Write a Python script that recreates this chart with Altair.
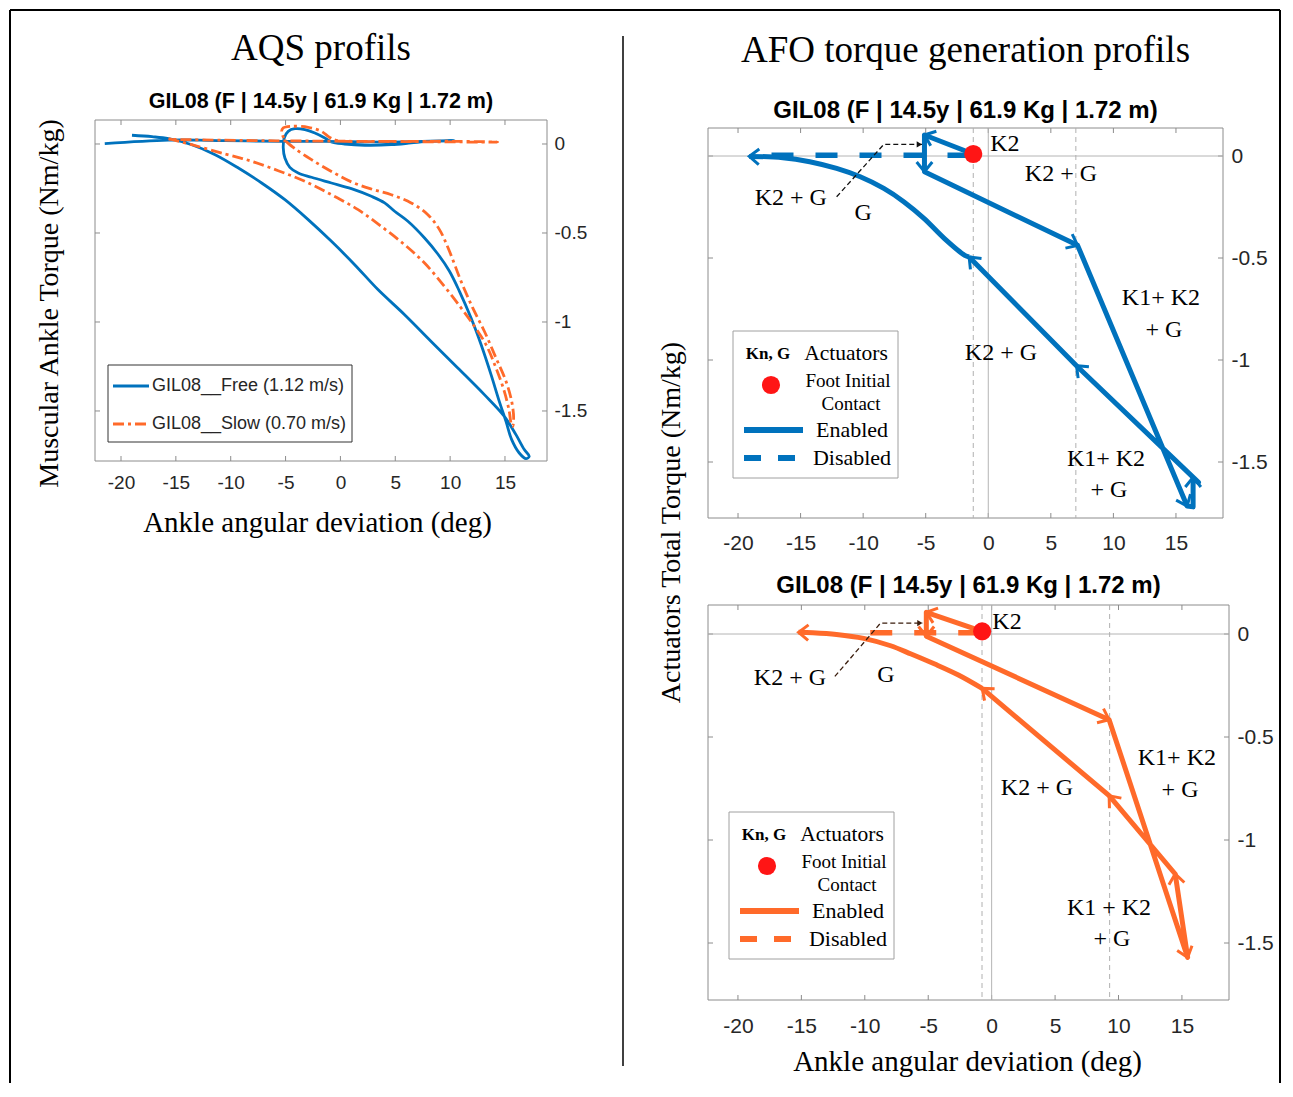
import math
import altair as alt
import pandas as pd

BLUE = "#0072BD"
ORANGE = "#FF6A2A"
RED = "#FF1515"
INK = "#262626"
BOX = "#8c8c8c"
SERIF = "Liberation Serif"
SANS = "Liberation Sans"

X_TICKS = [-20, -15, -10, -5, 0, 5, 10, 15]
Y_TICKS = [0, -0.5, -1, -1.5]
SUBJECT = "GIL08 (F | 14.5y | 61.9 Kg | 1.72 m)"
X_TITLE = "Ankle angular deviation (deg)"

# ---------------- AQS profils (left) ----------------
FREE_X = [-19.0, -17.18, -15.67, -13.55, -11.42, -9.30, -7.18, -5.06, -2.94, -0.82, 1.30, 3.42,
          5.85, 8.27, 10.70, 13.12, 14.94, 16.0, 16.76, 17.21, 16.91, 16.30, 15.61, 15.09, 14.48,
          13.73, 12.82, 11.91, 10.85, 9.94, 8.88, 7.67, 6.15, 4.94, 4.03, 2.82, 1.0, -0.82, -2.64,
          -3.85, -4.61, -5.06, -5.21, -5.12, -4.76, -4.15, -3.24, -2.33, -1.42, -0.82, 0.39, 2.21,
          4.64, 6.45, 7.97, 10.39, 4.64, -1.42, -5.21, -10.52, -15.67, -21.48]
FREE_Y = [0.049, 0.041, 0.030, -0.004, -0.060, -0.135, -0.219, -0.313, -0.425, -0.547, -0.678,
          -0.818, -0.959, -1.109, -1.258, -1.408, -1.530, -1.633, -1.717, -1.755, -1.768, -1.736,
          -1.661, -1.558, -1.446, -1.296, -1.127, -0.978, -0.828, -0.715, -0.618, -0.528, -0.434,
          -0.378, -0.331, -0.294, -0.251, -0.219, -0.187, -0.163, -0.131, -0.079, -0.022, 0.034,
          0.071, 0.086, 0.081, 0.062, 0.034, 0.011, 0.0, -0.007, -0.004, 0.006, 0.015, 0.019,
          0.011, 0.015, 0.015, 0.019, 0.022, 0.002]
SLOW_X = [-15.67, -13.55, -10.52, -8.09, -5.67, -3.24, -0.82, 1.61, 3.73, 5.85, 7.67, 9.48, 11.0,
          12.21, 13.27, 14.18, 14.94, 15.39, 15.55, 15.7, 15.79, 15.61, 15.09, 14.18, 13.12, 12.06,
          11.0, 9.94, 9.03, 7.97, 6.45, 4.64, 2.82, 1.0, -0.82, -2.64, -4.15, -5.06, -5.36, -5.21,
          -4.45, -2.94, -1.73, -0.97, -0.21, 4.64, 10.7, 14.33, 1.61, -7.48, -15.67]
SLOW_Y = [0.030, -0.004, -0.056, -0.097, -0.150, -0.210, -0.285, -0.369, -0.463, -0.566, -0.669,
          -0.800, -0.921, -1.024, -1.127, -1.258, -1.390, -1.502, -1.567, -1.586, -1.539, -1.446,
          -1.333, -1.202, -1.052, -0.921, -0.772, -0.603, -0.481, -0.397, -0.331, -0.285, -0.253,
          -0.213, -0.154, -0.088, -0.026, 0.024, 0.071, 0.090, 0.099, 0.094, 0.071, 0.037, 0.019,
          0.015, 0.015, 0.011, 0.015, 0.019, 0.026]
AQS_LEGEND = ["GIL08__Free (1.12 m/s)", "GIL08__Slow (0.70 m/s)"]

# ---------------- AFO, free walking (right top) ----------------
# straight actuator phases (vertex 0 = foot initial contact), then the G curve
RT_EN_X = [-1.2, -5.1, -5.1, 7.14, 15.89, 16.37, 16.37, 16.8, 7.05, -1.53]
RT_EN_Y = [0.01, 0.103, -0.077, -0.438, -1.716, -1.72, -1.575, -1.60, -1.028, -0.495]
RT_ARROWS = [1, 2, 3, 4, 6, 8, 9]
RT_G_X = [-1.53, -1.88, -3.5, -5.12, -6.73, -8.35, -10.23, -12.12, -14.27, -16.42, -19.1]
RT_G_Y = [-0.495, -0.487, -0.405, -0.307, -0.225, -0.159, -0.102, -0.061, -0.028, -0.008, -0.002]
RT_DIS_X = [-1.5, -19.0]
RT_DIS_Y = [0.004, 0.004]
RT_CONTACT_X = [-1.2]
RT_CONTACT_Y = [0.01]
RT_GUIDES = [-1.2, 7.0]
RT_NOTE_X = [-12.12, -8.35, -5.3]
RT_NOTE_Y = [-0.2, 0.057, 0.057]
RT_TXT = ["K2", "K2 + G", "K2 + G", "G", "K1+ K2", "+ G", "K2 +  G", "K1+ K2", "+ G"]
RT_TXT_X = [1.33, 5.81, -15.78, -10.0, 13.8, 14.04, 1.01, 9.41, 9.65]
RT_TXT_Y = [0.059, -0.088, -0.206, -0.279, -0.696, -0.853, -0.966, -1.485, -1.637]

# ---------------- AFO, slow walking (right bottom) ----------------
RB_EN_X = [-0.75, -5.15, -5.15, 9.26, 15.45, 14.47, 9.26, -0.75]
RB_EN_Y = [0.013, 0.105, -0.011, -0.416, -1.570, -1.165, -0.785, -0.264]
RB_ARROWS = [1, 2, 3, 4, 5, 6, 7]
RB_G_X = [-0.75, -2.62, -4.48, -6.35, -7.96, -10.09, -12.23, -14.1, -15.22]
RB_G_Y = [-0.264, -0.199, -0.146, -0.097, -0.057, -0.021, -0.002, 0.006, 0.008]
RB_DIS_X = [-0.9, -10.9]
RB_DIS_Y = [0.006, 0.006]
RB_CONTACT_X = [-0.75]
RB_CONTACT_Y = [0.013]
RB_GUIDES = [-0.76, 9.3]
RB_NOTE_X = [-12.36, -8.76, -5.45]
RB_NOTE_Y = [-0.206, 0.053, 0.053]
RB_TXT = ["K2", "K2 + G", "G", "K1+ K2", "+ G", "K2 + G", "K1 + K2", "+ G"]
RB_TXT_X = [1.21, -15.9, -8.34, 14.6, 14.85, 3.57, 9.25, 9.48]
RB_TXT_Y = [0.058, -0.214, -0.199, -0.602, -0.757, -0.748, -1.330, -1.481]

AFO_LEGEND = ["Actuators", "Foot Initial", "Contact", "Enabled", "Disabled"]

# ---------------- panel geometry ----------------
GL = dict(W=452, H=341, xdom=[-22.37, 18.83], ydom=[-1.781, 0.1348], top=0)
GT = dict(W=515, H=398, xdom=[-22.40, 18.76], ydom=[-1.7745, 0.1765], top=8)
GB = dict(W=521, H=395, xdom=[-22.36, 18.71], ydom=[-1.7767, 0.1408], top=0)

ONE = pd.DataFrame({"k": [0]})
CHEVRON = "M -1 -0.8 L 0 0 L -1 0.8"
TRIANGLE = "M -1 -0.6 L 0 0 L -1 0.6 Z"
LABEL_EXPR = "'' + datum.value"
DASHDOT = [11, 4, 3, 4]


def prule(x, y, x2=None, y2=None, color="black", width=1.0, dash=None):
    kw = dict(color=color, strokeWidth=width)
    if dash:
        kw["strokeDash"] = dash
    enc = dict(x=alt.value(x), y=alt.value(y))
    if x2 is not None:
        enc["x2"] = alt.value(x2)
    if y2 is not None:
        enc["y2"] = alt.value(y2)
    return alt.Chart(ONE).mark_rule(**kw).encode(**enc)


def ptext(txt, x, y, size, font=SERIF, weight="normal", align="center", color="black"):
    return alt.Chart(ONE).mark_text(text=txt, font=font, fontSize=size, fontWeight=weight,
                                    align=align, baseline="middle", color=color).encode(
        x=alt.value(x), y=alt.value(y))


def xy_df(xs, ys):
    return pd.DataFrame({"x": xs, "y": ys, "i": list(range(len(xs)))})


def arrow_df(g, xs, ys, idx):
    sx = g["W"] / (g["xdom"][1] - g["xdom"][0])
    sy = g["H"] / (g["ydom"][1] - g["ydom"][0])
    rows = []
    for i in idx:
        dx = (xs[i] - xs[i - 1]) * sx
        dy = -(ys[i] - ys[i - 1]) * sy
        rows.append({"x": xs[i], "y": ys[i], "ang": math.degrees(math.atan2(dy, dx)) % 360})
    return pd.DataFrame(rows)


def encoders(g, xaxis, yaxis):
    xs = alt.Scale(domain=g["xdom"], nice=False, zero=False)
    ys = alt.Scale(domain=g["ydom"], nice=False, zero=False)
    return alt.X("x:Q", scale=xs, axis=xaxis), alt.Y("y:Q", scale=ys, axis=yaxis)


def frame(g, X, Y):
    W, H, top = g["W"], g["H"], g["top"]
    xt = pd.DataFrame({"x": X_TICKS})
    yt = pd.DataFrame({"y": Y_TICKS})
    return [
        prule(0, top, W, None, BOX), prule(0, H, W, None, BOX),
        prule(0, top, None, H, BOX), prule(W, top, None, H, BOX),
        alt.Chart(xt).mark_rule(color=BOX).encode(x=X, y=alt.value(H), y2=alt.value(H - 5)),
        alt.Chart(xt).mark_rule(color=BOX).encode(x=X, y=alt.value(top), y2=alt.value(top + 5)),
        alt.Chart(yt).mark_rule(color=BOX).encode(y=Y, x=alt.value(0), x2=alt.value(5)),
        alt.Chart(yt).mark_rule(color=BOX).encode(y=Y, x=alt.value(W - 5), x2=alt.value(W)),
    ]


def x_axis(size, pad, title=None, tx=0, ty=0):
    kw = dict(orient="bottom", values=X_TICKS, labelExpr=LABEL_EXPR, labelFont=SANS,
              labelFontSize=size, labelColor=INK, labelPadding=pad, ticks=False, tickSize=0,
              domain=False, grid=False, labelOverlap=False)
    if title:
        kw.update(title=title, titleFont=SERIF, titleFontSize=29, titleFontWeight="normal",
                  titleColor="black", titleX=tx, titleY=ty, titleAlign="center",
                  titleBaseline="middle")
    else:
        kw.update(title="")
    return alt.Axis(**kw)


def y_axis(size, pad, title=None, tx=0, ty=0):
    kw = dict(orient="right", values=Y_TICKS, labelExpr=LABEL_EXPR, labelFont=SANS,
              labelFontSize=size, labelColor=INK, labelPadding=pad, ticks=False, tickSize=0,
              domain=False, grid=False, labelOverlap=False)
    if title:
        kw.update(title=title, titleFont=SERIF, titleFontSize=28, titleFontWeight="normal",
                  titleColor="black", titleX=tx, titleY=ty, titleAngle=270, titleAlign="center",
                  titleBaseline="middle")
    else:
        kw.update(title="")
    return alt.Axis(**kw)


# ---------------- left panel ----------------
XL, YL = encoders(GL, x_axis(19, 12, X_TITLE, 222, 61),
                  y_axis(19, 7, "Muscular Ankle Torque (Nm/kg)", -498, 183))
left_layers = frame(GL, XL, YL) + [
    alt.Chart(xy_df(FREE_X, FREE_Y)).mark_line(color=BLUE, strokeWidth=2.8,
                                               interpolate="catmull-rom").encode(
        x=XL, y=YL, order="i:Q"),
    alt.Chart(xy_df(SLOW_X, SLOW_Y)).mark_line(color=ORANGE, strokeWidth=2.8, strokeDash=DASHDOT,
                                               interpolate="catmull-rom").encode(
        x=XL, y=YL, order="i:Q"),
    alt.Chart(ONE).mark_rect(fill="white", stroke="#333333", strokeWidth=1).encode(
        x=alt.value(13), x2=alt.value(257), y=alt.value(245), y2=alt.value(322)),
    prule(18, 266, 54, None, BLUE, 2.8),
    prule(18, 304, 54, None, ORANGE, 2.8, DASHDOT),
    ptext(AQS_LEGEND[0], 57, 266, 18, SANS, align="left", color=INK),
    ptext(AQS_LEGEND[1], 57, 304, 18, SANS, align="left", color=INK),
]
left = alt.layer(*left_layers).properties(
    width=GL["W"], height=GL["H"],
    title=alt.TitleParams(text="AQS profils", subtitle=SUBJECT, font=SERIF, fontSize=37,
                          fontWeight="normal", color="black", subtitleFont=SANS,
                          subtitleFontSize=21.5, subtitleFontWeight="bold",
                          subtitleColor="black", anchor="middle", frame="group", offset=4,
                          subtitlePadding=23))


# ---------------- right panels ----------------
def afo_panel(g, X, Y, color, en_x, en_y, arrows, g_x, g_y, dis_x, dis_y, cx, cy, guides,
              note_x, note_y, note_color, txt, txt_x, txt_y, lx, ly):
    W, H, top = g["W"], g["H"], g["top"]
    layers = frame(g, X, Y) + [
        alt.Chart(pd.DataFrame({"y": [0]})).mark_rule(color="#b4b4b4", strokeWidth=1).encode(
            y=Y, x=alt.value(0), x2=alt.value(W)),
        alt.Chart(pd.DataFrame({"x": [0]})).mark_rule(color="#b4b4b4", strokeWidth=1).encode(
            x=X, y=alt.value(top), y2=alt.value(H)),
        alt.Chart(pd.DataFrame({"x": guides})).mark_rule(
            color="#b0b0b0", strokeWidth=1, strokeDash=[5, 4]).encode(
            x=X, y=alt.value(top), y2=alt.value(H)),
        alt.Chart(xy_df(dis_x, dis_y)).mark_line(color=color, strokeWidth=5.5,
                                                 strokeDash=[22, 22]).encode(
            x=X, y=Y, order="i:Q"),
        alt.Chart(xy_df(en_x, en_y)).mark_line(color=color, strokeWidth=5,
                                               strokeJoin="round").encode(
            x=X, y=Y, order="i:Q"),
        alt.Chart(xy_df(g_x, g_y)).mark_line(color=color, strokeWidth=5,
                                             interpolate="catmull-rom").encode(
            x=X, y=Y, order="i:Q"),
        alt.Chart(pd.concat([arrow_df(g, en_x, en_y, arrows),
                             arrow_df(g, g_x, g_y, [len(g_x) - 1])])).mark_point(
            shape=CHEVRON, filled=False, color=color, strokeWidth=3, size=380,
            opacity=1).encode(x=X, y=Y, angle=alt.Angle("ang:Q", scale=None)),
        alt.Chart(xy_df(note_x, note_y)).mark_line(color=note_color, strokeWidth=1.3,
                                                   strokeDash=[5, 3]).encode(
            x=X, y=Y, order="i:Q"),
        alt.Chart(arrow_df(g, note_x, note_y, [2])).mark_point(
            shape=TRIANGLE, filled=True, color=note_color, size=110, opacity=1).encode(
            x=X, y=Y, angle=alt.Angle("ang:Q", scale=None)),
        alt.Chart(pd.DataFrame({"x": cx, "y": cy})).mark_circle(
            color=RED, size=330, opacity=1).encode(x=X, y=Y),
        alt.Chart(pd.DataFrame({"x": txt_x, "y": txt_y, "t": txt})).mark_text(
            font=SERIF, fontSize=24, color="black", align="center", baseline="middle").encode(
            x=X, y=Y, text="t:N"),
        # legend
        alt.Chart(ONE).mark_rect(fill="white", stroke="#a0a0a0", strokeWidth=1).encode(
            x=alt.value(lx), x2=alt.value(lx + 165), y=alt.value(ly), y2=alt.value(ly + 147)),
        ptext("Kn, G", lx + 35, ly + 23, 17, SERIF, "bold"),
        ptext(AFO_LEGEND[0], lx + 113, ly + 23, 21.5),
        alt.Chart(ONE).mark_circle(color=RED, size=330, opacity=1).encode(
            x=alt.value(lx + 38), y=alt.value(ly + 54)),
        ptext(AFO_LEGEND[1], lx + 115, ly + 50, 19),
        ptext(AFO_LEGEND[2], lx + 118, ly + 73, 19),
        prule(lx + 11, ly + 99, lx + 70, None, color, 6),
        ptext(AFO_LEGEND[3], lx + 119, ly + 99, 22),
        prule(lx + 11, ly + 127, lx + 62, None, color, 6, [17, 17]),
        ptext(AFO_LEGEND[4], lx + 119, ly + 127, 22),
    ]
    return alt.layer(*layers)


XT, YT = encoders(GT, x_axis(21, 14), y_axis(21, 8, "Actuators Total Torque (Nm/kg)", -552, 402))
top_right = afo_panel(GT, XT, YT, BLUE, RT_EN_X, RT_EN_Y, RT_ARROWS, RT_G_X, RT_G_Y,
                      RT_DIS_X, RT_DIS_Y, RT_CONTACT_X, RT_CONTACT_Y, RT_GUIDES, RT_NOTE_X,
                      RT_NOTE_Y, "#111111", RT_TXT, RT_TXT_X, RT_TXT_Y, 25, 211).properties(
    width=GT["W"], height=GT["H"],
    title=alt.TitleParams(text="AFO torque generation profils", subtitle=SUBJECT, font=SERIF,
                          fontSize=37, fontWeight="normal", color="black", subtitleFont=SANS,
                          subtitleFontSize=24, subtitleFontWeight="bold",
                          subtitleColor="black", anchor="middle", frame="group", offset=-3.6,
                          subtitlePadding=28.8))

XB, YB = encoders(GB, x_axis(21, 15, X_TITLE, 259, 61), y_axis(21, 8))
bottom_right = afo_panel(GB, XB, YB, ORANGE, RB_EN_X, RB_EN_Y, RB_ARROWS, RB_G_X, RB_G_Y,
                         RB_DIS_X, RB_DIS_Y, RB_CONTACT_X, RB_CONTACT_Y, RB_GUIDES, RB_NOTE_X,
                         RB_NOTE_Y, "#3a1c0c", RB_TXT, RB_TXT_X, RB_TXT_Y, 21, 207).properties(
    width=GB["W"], height=GB["H"],
    title=alt.TitleParams(text=SUBJECT, font=SANS, fontSize=24, fontWeight="bold",
                          color="black", anchor="middle", frame="group", offset=4.4))

# spacer cell carrying the figure frame and the column divider (page-level decoration)
spacer = alt.layer(
    prule(-85, -595, None, 478, "black", 2),
    prule(-85, -595, 1185, None, "black", 2),
    prule(1185, -595, None, 478, "black", 2),
    prule(528, -569, None, 461, "black", 1.5),
).properties(width=1, height=1)

chart = alt.concat(left, top_right, spacer, bottom_right, columns=2, bounds="flush",
                   align="each", spacing={"row": 87, "column": 161}).properties(
    padding=0, background="white").configure_view(stroke="transparent")

chart.save("out.html", embed_options={"renderer": "svg", "actions": False})
